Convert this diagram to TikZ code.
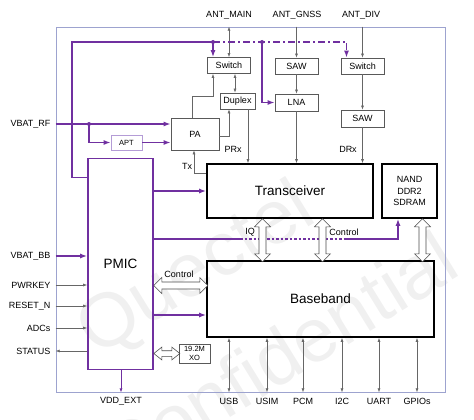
\documentclass[tikz,border=0pt]{standalone}
\usepackage{fontspec}
\setmainfont{Liberation Sans}
\usetikzlibrary{arrows.meta,positioning}
\definecolor{qpurple}{HTML}{7030A0}
\definecolor{qframe}{HTML}{9DA3CF}
\definecolor{qlav}{HTML}{B49CD6}

\tikzset{
  vfat/.pic={\draw[draw=black!70,line width=.6pt,fill=white] (0,0) -- (8,8) -- (3.5,8) -- (3.5,#1-8) -- (8,#1-8) -- (0,#1)
    -- (-8,#1-8) -- (-3.5,#1-8) -- (-3.5,8) -- (-8,8) -- cycle;},
  hfat/.pic={\draw[draw=black!70,line width=.6pt,fill=white] (0,0) -- (8,8) -- (8,3.5) -- (#1-8,3.5) -- (#1-8,8) -- (#1,0)
    -- (#1-8,-8) -- (#1-8,-3.5) -- (8,-3.5) -- (8,-8) -- cycle;}
}

\begin{document}
\begin{tikzpicture}[x=1pt,y=-1pt,font=\fontsize{9}{10}\selectfont,
    box/.style={draw=black!65,line width=.7pt,inner sep=0pt,minimum width=43pt,minimum height=16pt},
    chip/.style={draw=black,line width=1.6pt,inner sep=0pt,font=\fontsize{13.5}{15}\selectfont},
    small/.style={font=\fontsize{7.5}{8.5}\selectfont},
    sig/.style={draw=black!60,line width=.6pt,-{Latex[length=4pt,width=3pt]}},
    bisig/.style={draw=black!60,line width=.6pt,{Latex[length=4pt,width=3pt]}-{Latex[length=4pt,width=3pt]}},
    pline/.style={draw=qpurple,line width=1.4pt},
    ptip/.style={pline,-{Latex[length=7pt,width=5pt]}},
    pthin/.style={draw=qpurple,line width=.7pt,-{Latex[length=4pt,width=3pt]}},
    dot/.style={circle,fill=qpurple,inner sep=0pt,minimum size=4pt}]
\useasboundingbox (0,0) rectangle (474,420);

% watermark
\begin{scope}[black!6,font=\fontsize{76}{76}\selectfont]
\node[rotate=31.6] (wm1) at (197,272) {Quectel};
\node[rotate=31.6] (wm2) at (278,356) {Confidential};
\end{scope}

\node[draw=qframe,line width=.8pt,inner sep=0pt,minimum width=389pt,minimum height=365pt] (frame) at (250.5,209.5) {};

% RF part
\node[box] (swm) at (229,65.5) {Switch};
\node[box,minimum width=35pt] (dup) at (237.5,101) {Duplex};
\node[box,minimum width=48pt,minimum height=32pt] (pa) at (195,134) {PA};
\node[box,small,draw=qlav,minimum width=31pt,minimum height=15pt] (apt) at (126.5,142.5) {APT};
\node[box] (sawg) at (296.5,66) {SAW};
\node[box,minimum height=17pt] (lna) at (296.5,102.5) {LNA};
\node[box] (swd) at (362.5,66) {Switch};
\node[box,minimum height=17pt] (sawd) at (362.5,118.5) {SAW};

% chips
\node[chip,minimum width=166pt,minimum height=54pt] (trx) at (290,191) {Transceiver};
\node[chip,font=\fontsize{9}{11.5}\selectfont,align=center,minimum width=55pt,minimum height=54pt] (nand) at (409.5,191) {NAND\\DDR2\\SDRAM};
\node[chip,minimum width=227pt,minimum height=76pt] (bb) at (320.5,299) {Baseband};
\node[chip,draw=qpurple,minimum width=65pt,minimum height=211pt] (pmic) at (120.5,264) {PMIC};
\node[box,small,align=center,minimum width=31pt,minimum height=19pt] (xo) at (194.5,353.5) {19.2M\\XO};

% antennas
\node (antm) at (229,15) {ANT\_MAIN};
\node (antg) at (297,15) {ANT\_GNSS};
\node (antd) at (361,15) {ANT\_DIV};
\draw[bisig] (swm.north |- frame.north) -- (swm.north);
\draw[sig] (sawg.north |- frame.north) -- (sawg.north);
\draw[sig] (swd.north |- frame.north) -- (swd.north);
\draw[sig] (sawg) -- (lna);
\draw[sig] (swd) -- (sawd);
\draw[sig] (lna) -- (lna |- trx.north);
\draw[sig] (sawd) -- (sawd |- trx.north);
\draw[bisig] ([xshift=6pt]swm.south) -- ([xshift=6pt]swm.south |- dup.north);
\draw[sig] ([xshift=-3pt]pa.north) -- ++(0,-21) -| ([xshift=-16pt]swm.south);
\draw[sig] ([yshift=-2pt]pa.east) -| ([xshift=-8.5pt]dup.south);
\draw[sig] ([xshift=10.5pt]dup.south) -- ([xshift=10.5pt]dup.south |- trx.north);
\draw[sig] ([yshift=18pt]trx.west) -| ([xshift=-1pt]pa.south);
\node (tx) at (187,166) {Tx};
\node (prx) at (233,149) {PRx};
\node (drx) at (348,149) {DRx};

% power and control
\coordinate (dm) at (213,42);
\coordinate (dg) at (262,42);
\draw[pline] ([yshift=-20pt]pmic.north west) -| (72,42) -- (dm);
\draw[pline,-{Latex[length=7pt,width=5pt]},dash pattern=on 7pt off 3pt on 2pt off 3pt] (dm) -- (dg) -| ([xshift=-16pt]swd.north);
\draw[ptip] (dm) -- ([xshift=-16pt]swm.north);
\draw[ptip] (dg) |- (lna.west);
\node[dot] at (dm) {};
\node[dot] at (dg) {};

\node[anchor=east] (vbrf) at (54,124) {VBAT\_RF};
\coordinate (drf) at (89,124);
\draw[ptip] (frame.west |- vbrf) -- (pa.west |- vbrf);
\draw[ptip] (drf) |- (apt.west);
\draw[ptip] (apt.east) -- (pa.west |- apt.east);
\node[dot] at (drf) {};

\draw[ptip] (pmic.east |- trx.west) -- (trx.west);
\coordinate (iqa) at (240,239);
\coordinate (iqb) at (345,239);
\draw[pline] (pmic.east |- iqa) -- (iqa);
\draw[pline,dash pattern=on 2.5pt off 2pt] (iqa) -- (iqb);
\draw[ptip] (iqb) -| ([xshift=-11.5pt]nand.south);
\node (iq) at (250,232) {IQ};
\node (ctl) at (344,232) {Control};

% buses
\path (trx.south) ++(-27.5,0) pic {vfat=43};
\path (trx.south) ++(32.5,0) pic {vfat=43};
\path (nand.south) ++(13,0) pic {vfat=43};
\path (pmic.east) ++(0,21.5) pic {hfat=54};
\path (pmic.east |- xo.west) pic[yscale=.8] {hfat=26};
\node (pctl) at (179,274) {Control};
\coordinate (pbb) at (153,315);
\draw[ptip] (pbb) -- (bb.west |- pbb);

% PMIC pins
\node[anchor=east] (vbbb) at (54,256) {VBAT\_BB};
\node[anchor=east] (pwr) at (54,285) {PWRKEY};
\node[anchor=east] (rst) at (54,306) {RESET\_N};
\node[anchor=east] (adc) at (54,328) {ADCs};
\node[anchor=east] (sts) at (54,351) {STATUS};
\draw[ptip] (frame.west |- vbbb) -- (pmic.west |- vbbb);
\draw[sig] (frame.west |- pwr) -- (pmic.west |- pwr);
\draw[sig] (frame.west |- rst) -- (pmic.west |- rst);
\draw[sig] (frame.west |- adc) -- (pmic.west |- adc);
\draw[sig] (pmic.west |- sts) -- (frame.west |- sts);
\node (vdd) at (121,401) {VDD\_EXT};
\draw[pthin] (pmic.south -| vdd) -- (frame.south -| vdd);

% interfaces
\foreach \n/\x in {USB/229,USIM/267,PCM/303,I2C/342,UART/379,GPIOs/417}{
  \node (\n) at (\x,401) {\n};
  \draw[bisig] (bb.south -| \n) -- (frame.south -| \n);
}
\end{tikzpicture}
\end{document}
